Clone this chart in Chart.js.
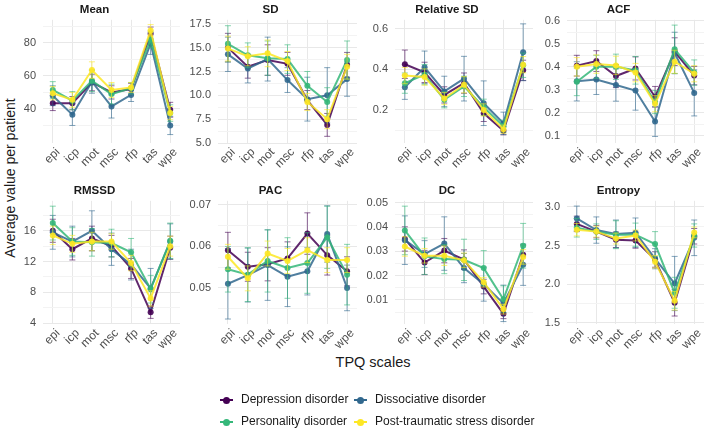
<!DOCTYPE html>
<html>
<head>
<meta charset="utf-8">
<script src="https://cdn.jsdelivr.net/npm/chart.js@4"></script>
<style>
  body { margin: 0; background: #fff; font-family: "Liberation Sans", Arial, sans-serif; }
  #wrap { position: relative; width: 709px; height: 432px; overflow: hidden; }
  #wrap canvas { position: absolute; }
  .ytitle { position: absolute; left: 10px; top: 178px; transform: translate(-50%, -50%) rotate(-90deg);
            font-size: 14px; color: #1a1a1a; white-space: nowrap; }
  .xtitle { position: absolute; left: 373px; top: 362px; transform: translate(-50%, -50%);
            font-size: 14.5px; color: #1a1a1a; white-space: nowrap; }
  .legend { position: absolute; font-size: 12px; color: #1a1a1a; white-space: nowrap; }
  .key { position: absolute; width: 13px; height: 2px; top: 7px; left: 0; }
  .key::after { content: ""; position: absolute; left: 3px; top: -2.5px; width: 7px; height: 7px; border-radius: 50%; background: inherit; }
  .legend span.txt { position: absolute; left: 21px; top: 0; }
</style>
</head>
<body>
<div id="wrap">
  <div class="ytitle">Average value per patient</div>
  <div class="xtitle">TPQ scales</div>
</div>
<script>
const tpqScales = ["epi", "icp", "mot", "msc", "rfp", "tas", "wpe"];
const groups = ["Depression disorder", "Dissociative disorder", "Personality disorder", "Post-traumatic stress disorder"];
const groupColors = ["68,1,84", "49,104,142", "53,183,121", "253,231,37"];

// values per group (rows follow `groups`), columns follow `tpqScales`
const meanVals = [
  [43.5, 43.5, 56, 50, 52, 85.5, 39.5],
  [48, 36.5, 56.5, 41.5, 48.5, 79.5, 30],
  [51.5, 45, 57, 49, 52.5, 82, 37.5],
  [49.5, 45.5, 63.5, 51.5, 53, 87.5, 37.5],
];
const meanErr = [
  [4.5, 4, 5, 4, 3.5, 4, 4.5],
  [6, 6.5, 7, 7, 4, 6.5, 5.5],
  [5, 5.5, 6.5, 6, 3.5, 5, 5],
  [4, 4.5, 5, 4.5, 3, 3.5, 4],
];
const sdVals = [
  [15.0, 13.0, 13.7, 13.3, 9.5, 6.9, 13.2],
  [14.3, 12.8, 13.8, 11.6, 9.6, 10.0, 11.7],
  [15.4, 14.2, 13.9, 13.8, 11.0, 9.3, 13.7],
  [14.9, 14.1, 14.4, 13.6, 9.3, 7.5, 13.0],
];
const sdErr = [
  [1.5, 1.2, 1.6, 1.2, 1.0, 1.2, 1.3],
  [1.8, 1.5, 2.3, 1.3, 2.3, 2.9, 1.8],
  [1.9, 1.3, 1.8, 1.5, 1.5, 1.5, 2.0],
  [1.3, 1.0, 1.4, 1.0, 0.9, 1.0, 1.3],
];
const relSdVals = [
  [0.425, 0.385, 0.274, 0.332, 0.183, 0.097, 0.395],
  [0.312, 0.41, 0.291, 0.354, 0.233, 0.134, 0.484],
  [0.332, 0.374, 0.25, 0.316, 0.213, 0.12, 0.42],
  [0.369, 0.362, 0.256, 0.324, 0.2, 0.105, 0.423],
];
const relSdErr = [
  [0.07, 0.05, 0.04, 0.05, 0.04, 0.02, 0.05],
  [0.06, 0.08, 0.075, 0.11, 0.11, 0.055, 0.14],
  [0.05, 0.05, 0.04, 0.05, 0.04, 0.03, 0.06],
  [0.04, 0.04, 0.03, 0.04, 0.03, 0.02, 0.04],
];
const acfVals = [
  [0.405, 0.425, 0.36, 0.393, 0.27, 0.466, 0.362],
  [0.337, 0.345, 0.321, 0.297, 0.163, 0.46, 0.287],
  [0.335, 0.40, 0.40, 0.385, 0.247, 0.476, 0.375],
  [0.40, 0.412, 0.406, 0.375, 0.24, 0.422, 0.37],
];
const acfErr = [
  [0.045, 0.045, 0.05, 0.05, 0.045, 0.06, 0.04],
  [0.085, 0.065, 0.07, 0.085, 0.065, 0.09, 0.1],
  [0.06, 0.05, 0.055, 0.06, 0.05, 0.105, 0.055],
  [0.04, 0.04, 0.04, 0.04, 0.035, 0.05, 0.035],
];
const rmssdVals = [
  [16.0, 13.6, 15.0, 14.0, 11.1, 5.4, 13.8],
  [15.8, 14.6, 16.0, 13.6, 11.6, 8.5, 14.6],
  [17.0, 14.6, 14.5, 14.4, 13.2, 8.4, 14.7],
  [15.4, 14.3, 14.6, 14.6, 11.8, 7.2, 14.0],
];
const rmssdErr = [
  [1.5, 1.4, 1.6, 1.4, 1.3, 0.8, 1.5],
  [2.2, 2.0, 2.6, 2.1, 2.0, 2.6, 2.3],
  [2.2, 1.8, 1.8, 1.8, 1.8, 1.8, 2.3],
  [1.2, 1.1, 1.2, 1.0, 1.0, 1.0, 1.3],
];
const pacVals = [
  [0.0591, 0.0551, 0.0557, 0.0571, 0.0631, 0.0579, 0.054],
  [0.051, 0.0531, 0.0555, 0.0527, 0.054, 0.063, 0.050],
  [0.0545, 0.0532, 0.0565, 0.0548, 0.056, 0.0622, 0.0532],
  [0.0575, 0.0523, 0.0583, 0.0565, 0.0591, 0.0567, 0.0567],
];
const pacErr = [
  [0.0043, 0.0035, 0.004, 0.004, 0.005, 0.0048, 0.0035],
  [0.0085, 0.0065, 0.0085, 0.0072, 0.0057, 0.0068, 0.0055],
  [0.0055, 0.0065, 0.0075, 0.0073, 0.0073, 0.0075, 0.0073],
  [0.003, 0.003, 0.003, 0.003, 0.003, 0.003, 0.003],
];
const dcVals = [
  [0.0351, 0.0254, 0.0303, 0.0266, 0.0155, 0.0043, 0.0286],
  [0.0346, 0.0289, 0.0332, 0.0231, 0.0165, 0.0086, 0.0245],
  [0.0386, 0.028, 0.0268, 0.0265, 0.0231, 0.0103, 0.0323],
  [0.032, 0.0282, 0.0282, 0.0263, 0.0173, 0.0062, 0.0277],
];
const dcErr = [
  [0.005, 0.005, 0.005, 0.004, 0.003, 0.002, 0.004],
  [0.01, 0.0055, 0.011, 0.006, 0.007, 0.0075, 0.0085],
  [0.01, 0.0075, 0.006, 0.0085, 0.0072, 0.0055, 0.0092],
  [0.004, 0.003, 0.004, 0.003, 0.002, 0.002, 0.003],
];
const entropyVals = [
  [2.78, 2.68, 2.575, 2.566, 2.32, 1.76, 2.62],
  [2.85, 2.70, 2.65, 2.666, 2.33, 2.01, 2.60],
  [2.73, 2.68, 2.64, 2.64, 2.52, 1.89, 2.63],
  [2.705, 2.68, 2.59, 2.63, 2.29, 1.786, 2.67],
];
const entropyErr = [
  [0.1, 0.08, 0.1, 0.1, 0.1, 0.17, 0.1],
  [0.16, 0.17, 0.18, 0.19, 0.13, 0.35, 0.23],
  [0.12, 0.1, 0.18, 0.15, 0.16, 0.2, 0.15],
  [0.08, 0.07, 0.07, 0.07, 0.08, 0.12, 0.07],
];

// y tick labels per panel
const meanTicks = ["40", "60", "80"];
const sdTicks = ["5.0", "7.5", "10.0", "12.5", "15.0", "17.5"];
const relSdTicks = ["0.2", "0.4", "0.6"];
const acfTicks = ["0.1", "0.2", "0.3", "0.4", "0.5", "0.6"];
const rmssdTicks = ["4", "8", "12", "16"];
const pacTicks = ["0.05", "0.06", "0.07"];
const dcTicks = ["0.01", "0.02", "0.03", "0.04", "0.05"];
const entropyTicks = ["1.5", "2.0", "2.5", "3.0"];

const panels = [
  { title: "Mean", vals: meanVals, err: meanErr, ticks: meanTicks, min: 19.4, max: 93.9 },
  { title: "SD", vals: sdVals, err: sdErr, ticks: sdTicks, min: 5.0, max: 17.92 },
  { title: "Relative SD", vals: relSdVals, err: relSdErr, ticks: relSdTicks, min: 0.037, max: 0.644 },
  { title: "ACF", vals: acfVals, err: acfErr, ticks: acfTicks, min: 0.0696, max: 0.604 },
  { title: "RMSSD", vals: rmssdVals, err: rmssdErr, ticks: rmssdTicks, min: 3.87, max: 19.9 },
  { title: "PAC", vals: pacVals, err: pacErr, ticks: pacTicks, min: 0.0413, max: 0.071 },
  { title: "DC", vals: dcVals, err: dcErr, ticks: dcTicks, min: 0.0001, max: 0.0508 },
  { title: "Entropy", vals: entropyVals, err: entropyErr, ticks: entropyTicks, min: 1.487, max: 3.078 },
];

// plot area geometry
const colLeft = [43, 218, 395, 567];
const colRight = [180, 357, 533, 704];
const rowTop = [20, 201];
const rowBottom = [143, 324];
const AXW = 34, TITLEH = 20, XLABH = 36;

const errorBars = {
  id: "errorBars",
  afterDatasetDraw(chart, args) {
    const ds = chart.data.datasets[args.index];
    const y = chart.scales.y;
    const ctx = chart.ctx;
    ctx.save();
    ctx.strokeStyle = ds.errColor;
    ctx.lineWidth = 1;
    args.meta.data.forEach((pt, j) => {
      const v = ds.data[j], e = ds.err[j];
      const top = y.getPixelForValue(v + e);
      const bot = y.getPixelForValue(v - e);
      ctx.beginPath();
      ctx.moveTo(pt.x, top); ctx.lineTo(pt.x, bot);
      ctx.moveTo(pt.x - 3, top); ctx.lineTo(pt.x + 3, top);
      ctx.moveTo(pt.x - 3, bot); ctx.lineTo(pt.x + 3, bot);
      ctx.stroke();
    });
    ctx.restore();
  },
};

// 45 degree category labels, anchored at each tick of the x scale
const slantedLabels = {
  id: "slantedLabels",
  afterDraw(chart) {
    const x = chart.scales.x;
    const ctx = chart.ctx;
    ctx.save();
    ctx.fillStyle = "#4d4d4d";
    ctx.font = '12px "Liberation Sans", Arial, sans-serif';
    ctx.textAlign = "right";
    ctx.textBaseline = "top";
    chart.data.labels.forEach((lab, i) => {
      const px = x.getPixelForTick(i);
      ctx.save();
      ctx.translate(px + 1, x.top + 3);
      ctx.rotate(-Math.PI / 4);
      ctx.fillText(lab, 0, 0);
      ctx.restore();
    });
    ctx.restore();
  },
};

const wrap = document.getElementById("wrap");

panels.forEach((p, i) => {
  const c = i % 4, r = Math.floor(i / 4);
  const cv = document.createElement("canvas");
  // symmetric canvas so the title centres over the plot area
  const w = colRight[c] - colLeft[c] + 2 * AXW;
  const h = rowBottom[r] - rowTop[r] + TITLEH + XLABH;
  cv.width = w; cv.height = h;
  cv.style.left = (colLeft[c] - AXW) + "px";
  cv.style.top = (rowTop[r] - TITLEH) + "px";
  wrap.appendChild(cv);

  const majors = p.ticks.map(Number);
  const step = majors[1] - majors[0];
  const minors = [];
  for (let k = -1; k < majors.length; k++) {
    const m = majors[0] + (k + 0.5) * step;
    if (m > p.min && m < p.max) minors.push(m);
  }

  new Chart(cv, {
    type: "line",
    data: {
      labels: tpqScales,
      datasets: groups.map((g, k) => ({
        label: g,
        data: p.vals[k],
        err: p.err[k],
        errColor: `rgba(${groupColors[k]},0.6)`,
        borderColor: `rgba(${groupColors[k]},0.85)`,
        backgroundColor: `rgba(${groupColors[k]},0.9)`,
        borderWidth: 2,
        pointRadius: 3,
        pointBorderWidth: 0,
        tension: 0,
        order: 4 - k,
      })),
    },
    options: {
      responsive: false,
      animation: false,
      events: [],
      layout: { padding: { left: 0, right: AXW, top: 0, bottom: 0 } },
      plugins: {
        legend: { display: false },
        tooltip: { enabled: false },
        title: {
          display: true,
          text: p.title,
          color: "#1a1a1a",
          font: { family: "Liberation Sans", size: 11.5, weight: "bold" },
          padding: { top: 3, bottom: 3 },
        },
      },
      scales: {
        x: {
          offset: true,
          grid: { offset: false, color: "#e8e8e8", drawTicks: false },
          border: { display: false },
          ticks: { display: false },
          afterFit(s) { s.height = XLABH; },
        },
        y: {
          min: p.min,
          max: p.max,
          grid: {
            drawTicks: false,
            color: (ctx) => (ctx.tick && ctx.tick.minor ? "#f3f3f3" : "#e8e8e8"),
          },
          border: { display: false },
          ticks: {
            color: "#4d4d4d",
            font: { family: "Liberation Sans", size: 11 },
            padding: 7,
            autoSkip: false,
            callback(v, idx, ticks) {
              const t = ticks[idx];
              if (t.minor) return "";
              const j = majors.findIndex((m) => Math.abs(m - t.value) < step * 1e-6);
              return j >= 0 ? p.ticks[j] : "";
            },
          },
          afterBuildTicks(s) {
            const all = majors.map((v) => ({ value: v })).concat(minors.map((v) => ({ value: v, minor: true })));
            all.sort((a, b) => a.value - b.value);
            s.ticks = all;
          },
          afterFit(s) { s.width = AXW; },
        },
      },
    },
    plugins: [errorBars, slantedLabels],
  });
});

// legend (2 x 2)
const legendPos = [[220, 392], [354, 392], [220, 414], [354, 414]];
groups.forEach((g, k) => {
  const d = document.createElement("div");
  d.className = "legend";
  d.style.left = legendPos[k][0] + "px";
  d.style.top = legendPos[k][1] + "px";
  d.innerHTML = `<div class="key" style="background: rgb(${groupColors[k]})"></div><span class="txt">${g}</span>`;
  wrap.appendChild(d);
});
</script>
</body>
</html>
